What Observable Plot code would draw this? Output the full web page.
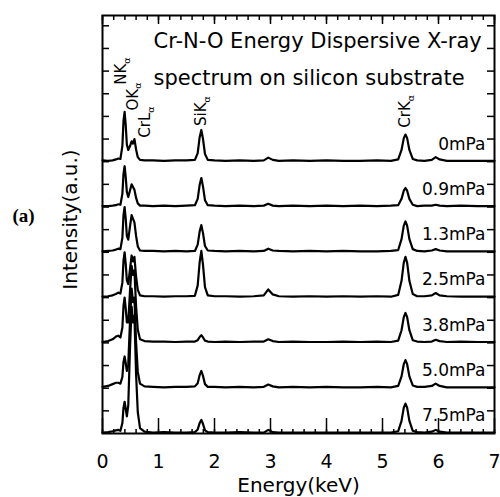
<!DOCTYPE html>
<html>
<head>
<meta charset="utf-8">
<script src="https://cdn.jsdelivr.net/npm/d3@7"></script>
<script src="https://cdn.jsdelivr.net/npm/@observablehq/plot@0.6"></script>
<style>
  html, body { margin: 0; padding: 0; background: #fff; }
</style>
</head>
<body>
<div id="chart"></div>
<script>
// Energy axis samples (keV) shared by all spectra
const energy = [0.00, 0.10, 0.18, 0.24, 0.28, 0.32, 0.355, 0.375, 0.395, 0.415,
  0.435, 0.46, 0.49, 0.52, 0.545, 0.57, 0.60, 0.63, 0.67, 0.75,
  0.9, 1.1, 1.3, 1.5, 1.65, 1.70, 1.735, 1.765, 1.795, 1.83,
  1.88, 2.0, 2.2, 2.45, 2.7, 2.88, 2.96, 3.04, 3.15, 3.4,
  3.7, 4.0, 4.3, 4.6, 4.9, 5.15, 5.28, 5.34, 5.38, 5.41,
  5.44, 5.48, 5.54, 5.62, 5.75, 5.88, 5.95, 6.02, 6.15, 6.4,
  6.7, 7.0];

// Intensity (a.u.) of each spectrum, one value per energy sample
const counts0mPa = [0.03, 0.02, 0.03, 0.05, 0.07, 0.06, 0.35, 0.90, 1.10, 0.80,
  0.38, 0.26, 0.34, 0.45, 0.40, 0.50, 0.27, 0.10, 0.04, 0.03,
  0.03, 0.02, 0.03, 0.03, 0.04, 0.19, 0.54, 0.70, 0.50, 0.17,
  0.04, 0.03, 0.02, 0.03, 0.02, 0.03, 0.09, 0.04, 0.02, 0.03,
  0.02, 0.03, 0.02, 0.02, 0.03, 0.02, 0.05, 0.26, 0.52, 0.60,
  0.52, 0.26, 0.06, 0.03, 0.02, 0.04, 0.10, 0.05, 0.02, 0.02,
  0.02, 0.02];
const counts09mPa = [0.02, 0.02, 0.03, 0.04, 0.06, 0.05, 0.29, 0.73, 0.90, 0.66,
  0.33, 0.22, 0.36, 0.50, 0.44, 0.38, 0.20, 0.08, 0.03, 0.03,
  0.02, 0.03, 0.02, 0.03, 0.04, 0.18, 0.49, 0.64, 0.45, 0.15,
  0.04, 0.03, 0.02, 0.03, 0.02, 0.03, 0.07, 0.03, 0.02, 0.03,
  0.02, 0.03, 0.02, 0.03, 0.02, 0.03, 0.04, 0.18, 0.36, 0.42,
  0.36, 0.18, 0.05, 0.02, 0.03, 0.03, 0.05, 0.03, 0.02, 0.03,
  0.02, 0.02];
const counts13mPa = [0.02, 0.03, 0.04, 0.06, 0.08, 0.07, 0.32, 0.82, 1.00, 0.74,
  0.36, 0.28, 0.56, 0.82, 0.74, 0.66, 0.36, 0.13, 0.04, 0.03,
  0.03, 0.02, 0.03, 0.02, 0.03, 0.17, 0.46, 0.60, 0.42, 0.14,
  0.04, 0.03, 0.02, 0.03, 0.02, 0.03, 0.08, 0.04, 0.03, 0.02,
  0.03, 0.02, 0.03, 0.02, 0.02, 0.03, 0.05, 0.29, 0.59, 0.68,
  0.59, 0.29, 0.07, 0.03, 0.02, 0.04, 0.07, 0.04, 0.02, 0.02,
  0.02, 0.02];
const counts25mPa = [0.02, 0.03, 0.05, 0.08, 0.11, 0.09, 0.33, 0.82, 1.00, 0.74,
  0.38, 0.30, 0.62, 0.93, 0.80, 0.90, 0.46, 0.17, 0.05, 0.03,
  0.03, 0.02, 0.03, 0.03, 0.04, 0.27, 0.78, 1.03, 0.72, 0.23,
  0.05, 0.03, 0.03, 0.02, 0.03, 0.05, 0.18, 0.07, 0.03, 0.02,
  0.03, 0.02, 0.03, 0.02, 0.03, 0.02, 0.06, 0.37, 0.77, 0.90,
  0.77, 0.37, 0.08, 0.03, 0.03, 0.05, 0.10, 0.05, 0.03, 0.02,
  0.02, 0.02];
const counts38mPa = [0.02, 0.04, 0.08, 0.14, 0.16, 0.12, 0.34, 0.82, 1.00, 0.76,
  0.45, 0.45, 1.12, 1.70, 1.50, 1.60, 0.80, 0.29, 0.08, 0.04,
  0.03, 0.03, 0.02, 0.03, 0.03, 0.06, 0.13, 0.17, 0.12, 0.05,
  0.03, 0.02, 0.03, 0.02, 0.03, 0.03, 0.08, 0.04, 0.02, 0.03,
  0.02, 0.02, 0.03, 0.02, 0.03, 0.02, 0.05, 0.28, 0.57, 0.66,
  0.57, 0.28, 0.06, 0.03, 0.02, 0.03, 0.07, 0.04, 0.02, 0.03,
  0.02, 0.02];
const counts50mPa = [0.03, 0.05, 0.09, 0.12, 0.12, 0.10, 0.25, 0.58, 0.70, 0.55,
  0.38, 0.52, 1.45, 2.20, 1.90, 2.00, 1.00, 0.36, 0.10, 0.04,
  0.03, 0.02, 0.03, 0.03, 0.04, 0.11, 0.29, 0.38, 0.27, 0.09,
  0.03, 0.03, 0.02, 0.03, 0.02, 0.03, 0.08, 0.04, 0.02, 0.03,
  0.02, 0.03, 0.02, 0.02, 0.03, 0.02, 0.05, 0.26, 0.53, 0.62,
  0.53, 0.26, 0.06, 0.03, 0.03, 0.05, 0.10, 0.05, 0.02, 0.02,
  0.02, 0.02];
const counts75mPa = [0.02, 0.03, 0.05, 0.07, 0.08, 0.06, 0.23, 0.57, 0.70, 0.54,
  0.38, 0.62, 1.85, 2.80, 2.45, 2.60, 1.30, 0.47, 0.12, 0.04,
  0.02, 0.03, 0.02, 0.02, 0.03, 0.09, 0.23, 0.30, 0.21, 0.07,
  0.03, 0.02, 0.02, 0.03, 0.02, 0.02, 0.08, 0.03, 0.02, 0.02,
  0.02, 0.02, 0.02, 0.02, 0.02, 0.02, 0.05, 0.28, 0.57, 0.66,
  0.57, 0.28, 0.06, 0.03, 0.02, 0.04, 0.08, 0.04, 0.02, 0.02,
  0.02, 0.02];

// Oxygen partial pressure of each spectrum, top to bottom
const pressures = ["0mPa", "0.9mPa", "1.3mPa", "2.5mPa", "3.8mPa", "5.0mPa", "7.5mPa"];
const spectra = [counts0mPa, counts09mPa, counts13mPa, counts25mPa, counts38mPa, counts50mPa, counts75mPa];

// Emission line labels, where each one sits (keV) and the level its text starts at
const peakNames = ["NK", "OK", "CrL", "SiK", "CrK"];
const peakLabelEnergy = [0.34, 0.54, 0.77, 1.77, 5.41];
const peakLabelLevel = [7.70, 7.13, 6.53, 6.79, 6.75];

// Axis ticks
const energyTicks = [0, 1, 2, 3, 4, 5, 6, 7];
const energyMinorTicks = d3.range(0, 7.001, 0.2).map(v => +v.toFixed(1));
const levelTicks = d3.range(0.5, 9.01, 0.5);

const titleLines = ["Cr-N-O Energy Dispersive X-ray", "spectrum on silicon substrate"];

// Stack the spectra: each one is lifted by one unit above the next
const nTraces = spectra.length;
const rows = spectra.flatMap((vals, i) =>
  vals.map((v, j) => ({pressure: pressures[i], energy: energy[j], level: v + (nTraces - 1 - i)})));
const tags = pressures.map((p, i) => ({pressure: p, level: nTraces - 1 - i + 0.5}));
const peaks = peakNames.map((name, i) => ({name, energy: peakLabelEnergy[i], level: peakLabelLevel[i]}));

const font = "DejaVu Sans";
const frameW = 500 - 102 - 6;
const frameH = 497 - 15 - 64;
const tickStyle = {stroke: "#000", strokeWidth: 1.5};
const label = {fill: "#000", lineAnchor: "middle"};

const chart = Plot.plot({
  width: 500,
  height: 497,
  marginLeft: 102,
  marginRight: 6,
  marginTop: 15,
  marginBottom: 64,
  style: {fontFamily: font, background: "#fff", color: "#000"},
  x: {domain: [0, 7], axis: null, label: null},
  y: {domain: [0, 418 / 45.3], axis: null, label: null},
  marks: [
    // inward ticks on all four sides
    Plot.tickX(energyMinorTicks, {x: d => d, insetTop: frameH - 4, ...tickStyle}),
    Plot.tickX(energyTicks, {x: d => d, insetTop: frameH - 15, ...tickStyle}),
    Plot.tickX(energyMinorTicks, {x: d => d, insetBottom: frameH - 5, ...tickStyle}),
    Plot.tickX(energyTicks, {x: d => d, insetBottom: frameH - 9, ...tickStyle}),
    Plot.tickY(levelTicks, {y: d => d, insetRight: frameW - 7, ...tickStyle}),
    Plot.tickY(levelTicks, {y: d => d, insetLeft: frameW - 7, ...tickStyle}),
    // energy tick labels
    Plot.axisX({anchor: "bottom", ticks: energyTicks, tickSize: 0, tickPadding: 20.5, label: null, fontSize: 19, tickFormat: d => String(d)}),
    Plot.frame({stroke: "#000", strokeWidth: 2}),
    // spectra
    Plot.line(rows, {x: "energy", y: "level", z: "pressure", stroke: "#000", strokeWidth: 2.2, strokeLinejoin: "round"}),
    // pressure tags on the right
    Plot.text(tags, {x: () => 7, y: "level", text: "pressure", textAnchor: "end", dx: -9, dy: 5, fontSize: 17, ...label}),
    // emission line labels (subscript added below)
    Plot.text(peaks, {x: "energy", y: "level", text: "name", rotate: -90, textAnchor: "start", fontSize: 15, ...label}),
    // title
    Plot.text([titleLines[0]], {frameAnchor: "top-left", dx: 51, dy: 25.3, textAnchor: "start", fontSize: 21, ...label}),
    Plot.text([titleLines[1]], {frameAnchor: "top-left", dx: 51, dy: 62.3, textAnchor: "start", fontSize: 21, ...label}),
    // axis titles
    Plot.text(["Energy(keV)"], {frameAnchor: "bottom", dy: 51.6, textAnchor: "middle", fontSize: 20, ...label}),
    Plot.text(["Intensity(a.u.)"], {frameAnchor: "left", dx: -32, dy: -5, rotate: -90, textAnchor: "middle", fontSize: 20, ...label}),
    Plot.text(["(a)"], {frameAnchor: "left", dx: -79, dy: -9, textAnchor: "middle", fontSize: 19, fontWeight: "bold", fontFamily: "Liberation Serif", ...label})
  ]
});

// subscript alpha on each emission line label
d3.select(chart).selectAll("text")
  .filter(function () { return peakNames.includes(this.textContent); })
  .append("tspan")
  .attr("dy", "0.35em")
  .attr("font-size", 9.5)
  .text("α");

document.getElementById("chart").appendChild(chart);
</script>
</body>
</html>
